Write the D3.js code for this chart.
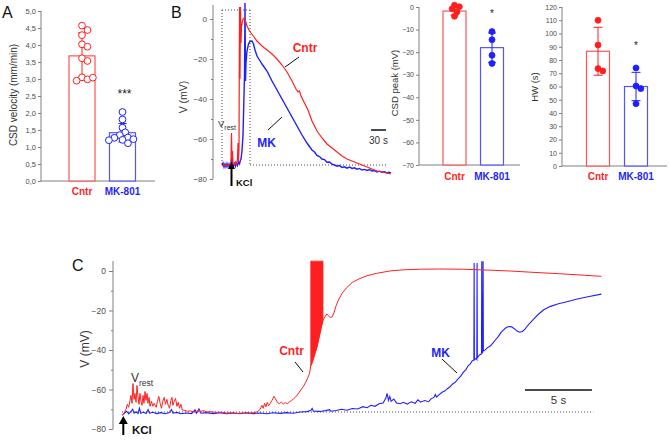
<!DOCTYPE html>
<html>
<head>
<meta charset="utf-8">
<script src="https://cdn.jsdelivr.net/npm/d3@7/dist/d3.min.js"></script>
<style>
html,body{margin:0;padding:0;background:#fff;}
svg{display:block;}
</style>
</head>
<body>
<svg id="chart" width="669" height="445"></svg>
<script>
// ================= DATA =================
const groups = ["Cntr", "MK-801"];

// Panel A : CSD velocity (mm/min)
const velocityMean = [3.68, 1.42];
const velocitySD = [0.68, 0.27];
const velocityCntr = [4.57, 4.44, 4.29, 4.02, 3.95, 3.61, 3.53, 3.05, 2.99, 2.95, 3.04];
const velocityMK = [2.03, 1.81, 1.57, 1.43, 1.35, 1.28, 1.27, 1.23, 1.21, 1.20, 1.11];
const velocityTicks = [0, 0.5, 1, 1.5, 2, 2.5, 3, 3.5, 4, 4.5, 5];
const velocityTickLabels = ["0,0","0,5","1,0","1,5","2,0","2,5","3,0","3,5","4,0","4,5","5,0"];
const velocityStars = ["", "***"];

// Panel B : CSD peak (mV)
const peakMean = [-1.8, -18.0];
const peakSD = [1.8, 6.5];
const peakCntr = [0.8, 0.1, -0.8, -2.2, -4.1];
const peakMK = [-10.9, -14.5, -21.4, -25.0];
const peakTicks = [0, -10, -20, -30, -40, -50, -60, -70];
const peakStars = ["", "*"];

// Panel B : HW (s)
const hwMean = [86.6, 60.0];
const hwSD = [18.1, 10.7];
const hwCntr = [110, 91.3, 73.5, 71.7];
const hwMK = [74.0, 60.4, 58.4, 47.0];
const hwTicks = [0, 10, 20, 30, 40, 50, 60, 70, 80, 90, 100, 110, 120];
const hwStars = ["", "*"];

// Voltage axes (panels B trace and C)
const vTicksMajor = [0, -20, -40, -60, -80];
const vTicksMinor = [-10, -30, -50, -70];
const vRest = -73;          // resting potential line, panel B
const vRestC = -71.4;       // resting potential line, panel C

// Panel B trace : [time (s), V (mV)]
const traceBMK = [[0,-73],[2,-72],[4,-74],[6,-72.5],[8,-74],[10,-72.3],[12,-73.8],[14,-72.5],[16,-74],[18,-72.5],
  [20,-68],[21,-72.5],[23,-73.5],[25,-72.2],[27,-73.6],[29,-72],[31,-73.2],[33,-71.5],[35,-72.4],[37,-70.5],
  [38,-70],[40,-66],[42,-58],[43,-48],[44,-38],[45,-28],[46,8],[47,-31],[48,-22],[50,-16],[53,-12.5],[56,-11.2],
  [60,-11],[63,-12.5],[66,-15.5],[70,-18.5],[75,-20.5],[80,-22.5],[90,-26],[100,-31],[110,-35.5],[120,-40],
  [130,-44.5],[140,-49],[150,-53.5],[160,-58],[170,-62],[180,-65.5],[185,-66.5],[190,-68.2],[195,-68.8],[200,-70],
  [205,-70.3],[210,-71.6],[215,-71.5],[220,-72.6],[225,-73],[230,-73.6],[235,-73.3],[240,-74.2],[245,-73.9],[250,-74.6],
  [255,-74],[260,-74.7],[265,-74.4],[270,-75.1],[275,-74.7],[280,-75.5],[285,-75.2],[290,-75.7],[295,-75.3],[300,-76],
  [305,-75.8],[310,-76.5],[315,-76.1],[320,-76.6],[325,-76.4],[330,-77],[334,-76.6],[338,-77]];
const traceBCntr = [[0,-73.5],[3,-72.8],[6,-73.6],[9,-72.9],[12,-73.5],[15,-72.9],[17,-73.4],[18,-71],[19,-57],[20,-70],
  [21,-66],[22,-72.5],[25,-72.8],[27,-71.5],[29,-73],[31,-70],[32,-62],[33,-71],[34,-65],[35,6],[36,-30],[37,6],
  [38,-12],[39,-4],[41,-1],[43,0.3],[45,0.5],[47,-1],[50,-3.5],[54,-5.5],[58,-7],[64,-9],[70,-11],[80,-13.5],
  [90,-15.5],[100,-17.5],[110,-20],[120,-23],[130,-26.5],[140,-31],[148,-35],[152,-36.5],[155,-36],[158,-38.5],
  [165,-42],[172,-45.5],[180,-51],[190,-56],[200,-59.5],[210,-62.5],[220,-64.5],[230,-66.5],[240,-68.5],[250,-70],
  [260,-71],[270,-72],[280,-73],[290,-74],[300,-75],[310,-76],[320,-76.5],[330,-77],[338,-77.5]];

// Panel C trace : [time (s), V (mV)]
const traceCCntr = [[0,-73],[0.15,-72],[0.3,-70],[0.4,-67.5],[0.5,-69],[0.6,-65.5],[0.67,-63],[0.75,-67],[0.82,-57],
  [0.9,-65],[0.97,-62],[1.05,-66.5],[1.12,-58],[1.2,-64],[1.27,-67.5],[1.34,-62],[1.42,-66],[1.49,-68],[1.57,-63],
  [1.64,-67],[1.72,-61],[1.79,-65.5],[1.87,-62],[1.94,-67],[2.02,-64],[2.09,-68.5],[2.2,-66],[2.3,-68.5],[2.4,-67],
  [2.55,-69],[2.65,-66],[2.75,-63.5],[2.85,-67],[2.95,-69.5],[3.05,-66],[3.15,-64],[3.25,-67.5],[3.35,-65],[3.45,-68],
  [3.55,-69.5],[3.65,-65.5],[3.73,-64],[3.8,-68],[3.9,-66],[4.0,-64.5],[4.1,-68.5],[4.2,-66.5],[4.3,-69.5],[4.4,-67.5],
  [4.5,-70.3],[4.7,-70.6],[4.9,-71],[5.1,-70.8],[5.3,-71.2],[5.5,-71],[5.8,-71.3],[6.1,-70.6],[6.3,-71.4],[6.6,-71.2],
  [7.0,-71.6],[7.4,-71.5],[7.8,-71.9],[8.2,-71.8],[8.6,-72.1],[9.0,-71.9],[9.4,-72.1],[9.8,-71.8],[10.1,-71.3],
  [10.3,-70.2],[10.45,-68],[10.55,-69.5],[10.65,-67],[10.75,-68.8],[10.85,-66.5],[10.95,-68.2],[11.05,-67.2],
  [11.2,-65.5],[11.35,-63.5],[11.45,-64.5],[11.6,-66.5],[11.75,-67.2],[11.9,-66.4],[12.05,-67.3],[12.2,-66.6],
  [12.35,-67.2],[12.5,-66.3],[12.65,-65.6],[12.8,-64.8],[12.95,-63.9],[13.1,-62.7],[13.25,-61.3],[13.4,-59.8],
  [13.55,-58.4],[13.7,-56.6],[13.85,-54.5],[14.0,-52],[14.1,-48],[14.19,-46.6],[14.56,-38.5],[14.79,-31.4],
  [15.01,-24.8],[15.15,-23.2],[15.3,-21.8],[15.42,-22.6],[15.55,-23.6],[15.7,-23.2],[15.85,-20.8],[16.0,-17.4],
  [16.2,-14.2],[16.45,-11.2],[16.8,-8.3],[17.2,-5.8],[17.7,-4.0],[18.3,-2.4],[19.0,-1.2],[20.0,0],[21.0,0.6],
  [22.3,0.9],[23.7,1.0],[25.5,0.9],[27.5,0.4],[29.0,0],[30.5,-0.6],[32.7,-1.4],[34.2,-2.0],[35.8,-2.7]];
// action-potential burst in Cntr (lower envelope, spikes reach +5 mV)
const burstCntrLow = [[14.1,-48],[14.19,-46.6],[14.56,-38.5],[14.79,-31.4],[15.01,-24.8]];
const burstCntrTop = 5;
const traceCMK = [[0,-73],[0.2,-72],[0.35,-71],[0.5,-72.3],[0.65,-71.2],[0.8,-70],[0.9,-72],[1.05,-71.3],[1.2,-72.2],
  [1.3,-69.5],[1.4,-72],[1.6,-71.4],[1.8,-72.2],[1.95,-70.2],[2.05,-72],[2.3,-71.5],[2.6,-72.2],[2.9,-71.7],[3.2,-72.3],
  [3.5,-71.8],[3.7,-70.2],[3.8,-72],[4.1,-71.6],[4.4,-72.3],[4.8,-71.9],[5.2,-72.2],[5.45,-70.3],[5.55,-72],[5.75,-69.8],
  [5.9,-72],[6.3,-71.7],[6.8,-72.2],[7.3,-71.8],[7.8,-72.3],[8.3,-71.9],[8.8,-72.3],[9.3,-71.8],[9.8,-72.2],[10.3,-71.9],
  [10.8,-72.3],[11.3,-71.8],[11.8,-72.1],[12.3,-71.7],[12.8,-72.0],[13.3,-71.4],[13.8,-71.2],[14.1,-70.6],[14.2,-69.6],
  [14.3,-71],[14.8,-71.1],[15.2,-70.7],[15.5,-70.2],[15.6,-71],[16.0,-70.6],[16.4,-70.0],[16.8,-70.5],[17.2,-69.6],
  [17.6,-69.9],[18.0,-68.7],[18.3,-69.2],[18.6,-68.0],[18.9,-68.5],[19.2,-67.2],[19.5,-66.8],[19.7,-64.5],[19.8,-62],
  [19.9,-65.5],[20.0,-63.5],[20.1,-66],[20.3,-64.8],[20.5,-66.8],[20.8,-67.2],[21.0,-66.5],[21.3,-67.4],[21.6,-66.2],
  [21.9,-67],[22.1,-65.2],[22.3,-66.4],[22.6,-65.6],[22.9,-66.2],[23.1,-64.6],[23.3,-64.0],[23.4,-62.5],[23.5,-63.8],
  [23.7,-62.6],[23.9,-61.4],[24.1,-60.8],[24.3,-59.6],[24.5,-58.6],[24.7,-57.2],[24.9,-56.3],[25.1,-54.6],[25.3,-53.2],
  [25.5,-51.2],[25.7,-49.8],[25.85,-48.0],[26.0,-47.2],[26.15,-45.5],[26.28,-45.0],[26.3,4],[26.32,-45],[26.45,-44.2],
  [26.5,-44.8],[26.52,4],[26.54,-44],[26.7,-42.5],[26.85,-42],[26.87,5],[26.89,-41.5],[26.95,-41],[26.97,5],[26.99,-40.5],
  [27.1,-40.2],[27.3,-38.8],[27.5,-38],[27.7,-36.5],[27.9,-34.8],[28.1,-33.2],[28.3,-31.2],[28.5,-29.8],[28.7,-28.6],
  [28.9,-28.1],[29.1,-28.3],[29.3,-29.2],[29.5,-30.4],[29.7,-31.0],[29.9,-30.6],[30.1,-29.4],[30.3,-27.6],[30.5,-26.2],
  [30.8,-24.0],[31.1,-21.9],[31.5,-19.6],[32.0,-17.9],[32.6,-16.6],[33.3,-15.4],[34.0,-14.2],[34.8,-13],[35.8,-11.7]];

// ================= DRAWING =================
const RED = "#ff1f1f", BLUE = "#1f1fff";
const RED_BAR = "#ff5555", BLUE_BAR = "#5555ff";
const AXIS = "#808080", TICKTXT = "#4d4d4d", TXT = "#333333";
const FONT = "'Liberation Sans', Arial, Helvetica, sans-serif";
const svg = d3.select("#chart").style("font-family", FONT);

function txt(g, x, y, s, o = {}) {
  return g.append("text").attr("x", x).attr("y", y).text(s)
    .attr("font-size", o.size || 10).attr("fill", o.fill || TXT)
    .attr("font-weight", o.weight || "normal")
    .attr("text-anchor", o.anchor || "start");
}
function styleAxis(g, fs) {
  g.select(".domain").remove();
  g.selectAll(".tick line").attr("stroke", AXIS);
  g.selectAll(".tick text").attr("fill", TICKTXT).attr("font-size", fs).attr("font-family", FONT);
}

// ---------- generic bar panel ----------
function barPanel(c) {
  const g = svg.append("g");
  const y = c.y, x = c.x;
  // axis
  const ax = g.append("g").attr("transform", `translate(${c.axisX},0)`)
    .call(d3.axisLeft(y).tickValues(c.ticks).tickFormat(c.fmt).tickSize(3).tickPadding(2));
  styleAxis(ax, c.tickFont);
  g.append("line").attr("x1", c.axisX).attr("x2", c.axisX)
    .attr("y1", y(c.yMax)).attr("y2", y(c.base)).attr("stroke", AXIS);
  g.append("line").attr("x1", c.axisX).attr("x2", c.baseEnd)
    .attr("y1", y(c.base)).attr("y2", y(c.base)).attr("stroke", AXIS);
  // bars
  groups.forEach((k, i) => {
    const col = i === 0 ? RED_BAR : BLUE_BAR;
    g.append("rect").attr("x", x(k) - c.barW / 2).attr("width", c.barW)
      .attr("y", y(c.means[i])).attr("height", y(c.base) - y(c.means[i]))
      .attr("fill", "white").attr("stroke", col).attr("stroke-width", 1.2);
  });
  // error bars
  groups.forEach((k, i) => {
    const col = i === 0 ? RED : BLUE;
    const lo = y(c.means[i] - c.sds[i]), hi = y(c.means[i] + c.sds[i]), cx = x(k);
    g.append("line").attr("x1", cx).attr("x2", cx).attr("y1", lo).attr("y2", hi).attr("stroke", col).attr("stroke-width", 1);
    [lo, hi].forEach(yy => g.append("line").attr("x1", cx - c.cap).attr("x2", cx + c.cap)
      .attr("y1", yy).attr("y2", yy).attr("stroke", col).attr("stroke-width", 1));
  });
  // dots (simple swarm placement)
  groups.forEach((k, i) => {
    const col = i === 0 ? RED : BLUE;
    const placed = [];
    c.dots[i].forEach(v => {
      const yy = y(v);
      let dx = 0;
      const cands = [0];
      for (let j = 1; j < 8; j++) cands.push(j * c.r * 0.8, -j * c.r * 0.8);
      for (const cd of cands) {
        if (placed.every(p => Math.hypot(p[0] - cd, p[1] - yy) >= c.minD)) { dx = cd; break; }
      }
      placed.push([dx, yy]);
      g.append("circle").attr("cx", x(k) + dx).attr("cy", yy).attr("r", c.r)
        .attr("fill", c.open ? "white" : col).attr("stroke", col).attr("stroke-width", c.open ? 1 : 0.8);
    });
  });
  // significance stars
  groups.forEach((k, i) => {
    if (c.stars[i]) txt(g, x(k) + c.starDx, c.starY, c.stars[i], { size: c.starSize, anchor: "middle", fill: "#222" });
  });
  // category labels
  groups.forEach((k, i) => {
    txt(g, x(k), c.labelY, k, { size: 10, weight: "bold", anchor: "middle", fill: i === 0 ? RED : BLUE });
  });
  // y title
  g.append("text").attr("transform", `translate(${c.titleX},${c.titleY}) rotate(-90)`)
    .attr("text-anchor", "middle").attr("font-size", c.titleSize).attr("fill", TXT).text(c.title);
}

// Panel A
barPanel({
  axisX: 41, baseEnd: 155, base: 0, yMax: 5,
  y: d3.scaleLinear().domain([0, 5]).range([181, 11]),
  x: d3.scalePoint().domain(groups).range([82, 122.5]),
  barW: 26, means: velocityMean, sds: velocitySD, cap: 4,
  dots: [velocityCntr, velocityMK], open: true, r: 3.4, minD: 5.2,
  ticks: velocityTicks, fmt: (d, i) => velocityTickLabels[i], tickFont: 7.5,
  stars: velocityStars, starY: 98, starSize: 12, starDx: 2,
  labelY: 195, title: "CSD velocity (mm/min)", titleX: 17, titleY: 95, titleSize: 10
});
// Panel B peak
barPanel({
  axisX: 419, baseEnd: 520, base: -70, yMax: 0,
  y: d3.scaleLinear().domain([-70, 0]).range([165, 7]),
  x: d3.scalePoint().domain(groups).range([454.5, 492]),
  barW: 23, means: peakMean, sds: peakSD, cap: 4,
  dots: [peakCntr, peakMK], open: false, r: 3, minD: 4.2,
  ticks: peakTicks, fmt: d => d3.format("d")(d), tickFont: 7,
  stars: peakStars, starY: 17, starSize: 10, starDx: 0,
  labelY: 180, title: "CSD peak (mV)", titleX: 398, titleY: 83, titleSize: 9.5
});
// Panel B HW
barPanel({
  axisX: 562, baseEnd: 667, base: 0, yMax: 120,
  y: d3.scaleLinear().domain([0, 120]).range([166, 7]),
  x: d3.scalePoint().domain(groups).range([598, 636]),
  barW: 23, means: hwMean, sds: hwSD, cap: 4.5,
  dots: [hwCntr, hwMK], open: false, r: 3, minD: 4.2,
  ticks: hwTicks, fmt: d => d3.format("d")(d), tickFont: 7,
  stars: hwStars, starY: 49, starSize: 10, starDx: 0,
  labelY: 180, title: "HW (s)", titleX: 538, titleY: 87, titleSize: 9.5
});

// ---------- voltage trace panel ----------
function vAxis(g, axisX, y, topV, fs, major, minor) {
  const a1 = g.append("g").attr("transform", `translate(${axisX},0)`)
    .call(d3.axisLeft(y).tickValues(vTicksMajor).tickFormat(d3.format("d")).tickSize(major).tickPadding(3));
  styleAxis(a1, fs);
  const a2 = g.append("g").attr("transform", `translate(${axisX},0)`)
    .call(d3.axisLeft(y).tickValues(vTicksMinor).tickFormat("").tickSize(minor));
  styleAxis(a2, fs);
  g.append("line").attr("x1", axisX).attr("x2", axisX).attr("y1", y(topV)).attr("y2", y(-80)).attr("stroke", AXIS);
}
function arrow(g, x, yTip, len, head, hw) {
  g.append("line").attr("x1", x).attr("x2", x).attr("y1", yTip + head - 1).attr("y2", yTip + len)
    .attr("stroke", "black").attr("stroke-width", 2);
  g.append("path").attr("d", `M${x},${yTip} L${x - hw},${yTip + head} L${x + hw},${yTip + head} Z`).attr("fill", "black");
}
function leader(g, x1, y1, x2, y2) {
  g.append("line").attr("x1", x1).attr("y1", y1).attr("x2", x2).attr("y2", y2).attr("stroke", "#111").attr("stroke-width", 1);
}
function vrest(g, x, y, s1, s2) {
  const t = g.append("text").attr("x", x).attr("y", y).attr("fill", TXT).attr("font-size", s1);
  t.append("tspan").text("V");
  t.append("tspan").attr("font-size", s2).attr("dy", s1 * 0.3).text("rest");
}

// Panel B trace
{
  const g = svg.append("g");
  const xB = d3.scaleLinear().domain([0, 340]).range([222, 392]);
  const yB = d3.scaleLinear().domain([-80, 0]).range([179, 19]);
  vAxis(g, 213, yB, 7, 8, 3, 2);
  g.append("text").attr("transform", `translate(187,97) rotate(-90)`).attr("text-anchor", "middle")
    .attr("font-size", 10.5).attr("fill", TXT).text("V (mV)");
  // dotted guides
  const dot = (x1, y1, x2, y2) => g.append("line").attr("x1", x1).attr("y1", y1).attr("x2", x2).attr("y2", y2)
    .attr("stroke", "#333").attr("stroke-width", 0.9).attr("stroke-dasharray", "1,2");
  dot(xB(0), yB(4.5), xB(56), yB(4.5));
  dot(xB(0), yB(4.5), xB(0), yB(vRest));
  dot(xB(56), yB(4.5), xB(56), yB(vRest));
  dot(xB(56), yB(vRest), xB(332), yB(vRest));
  g.append("clipPath").attr("id", "clipB").append("rect").attr("x", 214).attr("y", 2).attr("width", 190).attr("height", 190);
  const line = d3.line().x(d => xB(d[0])).y(d => yB(d[1]));
  g.append("path").datum(traceBMK).attr("d", line).attr("fill", "none").attr("stroke", BLUE)
    .attr("stroke-width", 1.4).attr("clip-path", "url(#clipB)");
  g.append("path").datum(traceBCntr).attr("d", line).attr("fill", "none").attr("stroke", RED)
    .attr("stroke-width", 1.2).attr("clip-path", "url(#clipB)");
  // scale bar 30 s
  g.append("line").attr("x1", xB(298)).attr("x2", xB(328)).attr("y1", yB(-55.5)).attr("y2", yB(-55.5))
    .attr("stroke", "#111").attr("stroke-width", 1.5);
  txt(g, xB(313), 144, "30 s", { size: 10, anchor: "middle", fill: TXT });
  vrest(g, 218, 127, 9.5, 7);
  arrow(g, 231.5, 162, 24, 7, 3.5);
  txt(g, 236, 186, "KCl", { size: 9.5, weight: "bold", fill: "#111" });
  txt(g, 305, 52, "Cntr", { size: 12, weight: "bold", anchor: "middle", fill: RED });
  leader(g, 299, 57, 285, 67);
  txt(g, 266.5, 147, "MK", { size: 12, weight: "bold", anchor: "middle", fill: BLUE });
  leader(g, 282, 117, 268, 130);
}

// Panel C trace
{
  const g = svg.append("g");
  const xC = d3.scaleLinear().domain([0, 36]).range([122, 604]);
  const yC = d3.scaleLinear().domain([-80, 0]).range([429, 271]);
  vAxis(g, 113, yC, 5, 8.5, 4, 2);
  g.append("text").attr("transform", `translate(89,349) rotate(-90)`).attr("text-anchor", "middle")
    .attr("font-size", 12).attr("fill", TXT).text("V (mV)");
  g.append("line").attr("x1", xC(0)).attr("x2", xC(35.2)).attr("y1", yC(vRestC)).attr("y2", yC(vRestC))
    .attr("stroke", "#333").attr("stroke-width", 0.9).attr("stroke-dasharray", "1,2");
  g.append("clipPath").attr("id", "clipC").append("rect").attr("x", 114).attr("y", yC(5)).attr("width", 500).attr("height", 180);
  const line = d3.line().x(d => xC(d[0])).y(d => yC(d[1]));
  g.append("path").datum(traceCMK).attr("d", line).attr("fill", "none").attr("stroke", BLUE)
    .attr("stroke-width", 1.1).attr("clip-path", "url(#clipC)");
  g.append("path").datum(traceCCntr).attr("d", line).attr("fill", "none").attr("stroke", RED)
    .attr("stroke-width", 1.0).attr("clip-path", "url(#clipC)");
  const area = d3.area().x(d => xC(d[0])).y0(d => yC(d[1])).y1(() => yC(burstCntrTop));
  g.append("path").datum(burstCntrLow).attr("d", area).attr("fill", RED).attr("stroke", RED).attr("stroke-width", 0.8);
  // scale bar 5 s
  g.append("line").attr("x1", xC(30.1)).attr("x2", xC(35.1)).attr("y1", yC(-60.3)).attr("y2", yC(-60.3))
    .attr("stroke", "#111").attr("stroke-width", 1.5);
  txt(g, xC(32.6), 404, "5 s", { size: 11.5, anchor: "middle", fill: TXT });
  vrest(g, 131, 382, 12, 8.5);
  arrow(g, 123.3, 416, 19, 8, 4.5);
  txt(g, 132, 434, "KCl", { size: 11.5, weight: "bold", fill: "#111" });
  txt(g, 291.5, 355, "Cntr", { size: 12, weight: "bold", anchor: "middle", fill: RED });
  leader(g, 295, 362, 303, 372);
  txt(g, 440.5, 357, "MK", { size: 12, weight: "bold", anchor: "middle", fill: BLUE });
  leader(g, 442, 359, 457, 373);
}

// Panel letters
txt(svg, 2, 18, "A", { size: 16, fill: "#111" });
txt(svg, 171, 18, "B", { size: 16, fill: "#111" });
txt(svg, 72, 271, "C", { size: 16, fill: "#111" });
</script>
</body>
</html>
